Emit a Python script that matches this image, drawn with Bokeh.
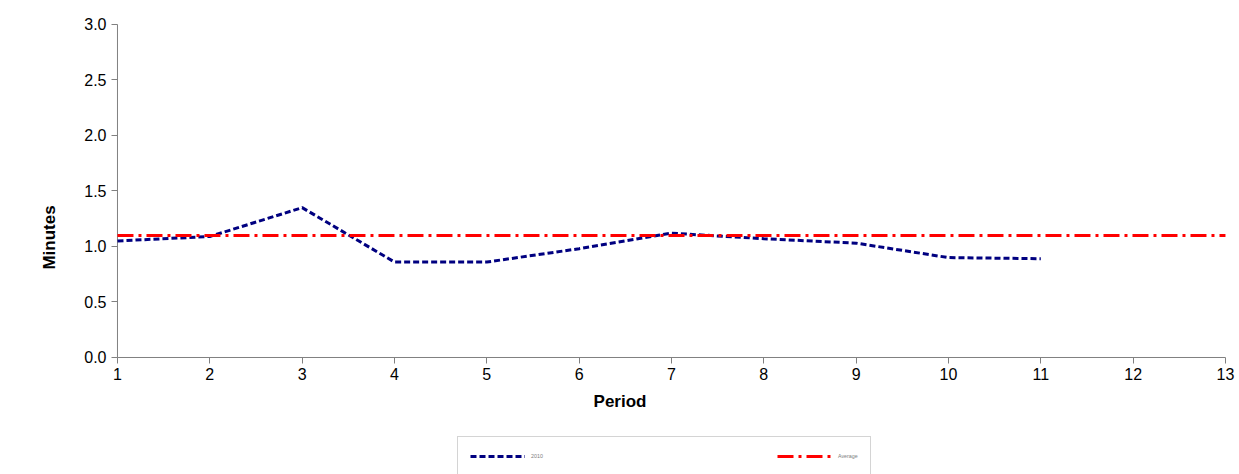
from bokeh.plotting import figure
from bokeh.models import Legend, LegendItem, Range1d, FixedTicker, NumeralTickFormatter
from bokeh.embed import file_html
from bokeh.resources import INLINE

periods = [1, 2, 3, 4, 5, 6, 7, 8, 9, 10, 11]
minutes = [1.05, 1.09, 1.35, 0.86, 0.86, 0.98, 1.12, 1.07, 1.03, 0.90, 0.89]
avg_x = [1, 13]
avg_y = [1.1, 1.1]
x_ticks = list(range(1, 14))
y_ticks = [0, 0.5, 1.0, 1.5, 2.0, 2.5, 3.0]

p = figure(width=1239, height=474, output_backend="svg", toolbar_location=None,
           x_range=Range1d(-0.267, 13.152), y_range=Range1d(-1.054, 3.216),
           min_border_left=0, min_border_right=0, min_border_top=0,
           min_border_bottom=0)
p.grid.visible = False
p.outline_line_color = None
p.background_fill_color = "white"

p.segment(x0=[x_ticks[0]], y0=[y_ticks[0]], x1=[x_ticks[0]], y1=[y_ticks[-1]], line_color="#808080", line_width=1)
p.segment(x0=[x_ticks[0]], y0=[y_ticks[0]], x1=[x_ticks[-1]], y1=[y_ticks[0]], line_color="#808080", line_width=1)

l1 = p.line(periods, minutes, line_color="#000080", line_width=3, line_dash="6 3")
l2 = p.line(avg_x, avg_y, line_color="#FF0000", line_width=3, line_dash="16 5 3 5")

for ax in (p.xaxis[0], p.yaxis[0]):
    ax.axis_line_color = None
    ax.major_tick_line_color = "#808080"
    ax.minor_tick_line_color = None
    ax.major_label_text_font = "Liberation Sans"
    ax.major_label_text_font_size = "16px"
    ax.major_label_text_color = "black"
    ax.axis_label_text_font = "Liberation Sans"
    ax.axis_label_text_font_size = "17px"
    ax.axis_label_text_font_style = "bold"
    ax.axis_label_text_color = "black"
    ax.major_tick_in = 0
    ax.major_tick_out = 6

p.xaxis.fixed_location = 0
p.yaxis.fixed_location = 1
p.xaxis.axis_label_standoff = 8
p.yaxis.axis_label_standoff = 22
p.xaxis.ticker = FixedTicker(ticks=x_ticks)
p.yaxis.ticker = FixedTicker(ticks=y_ticks)
p.yaxis.formatter = NumeralTickFormatter(format="0.0")
p.xaxis.axis_label = "Period"
p.yaxis.axis_label = "Minutes"

legend = Legend(items=[LegendItem(label="2010", renderers=[l1]),
                       LegendItem(label="Average", renderers=[l2])],
                orientation="horizontal", location=(457, -2),
                label_text_font_size="4pt", label_text_color="#808080",
                glyph_width=55, glyph_height=14, spacing=226, padding=12,
                margin=0, border_line_color="#AAAAAA", label_standoff=6)
legend.padding = 12
p.add_layout(legend, "center")

open("out.html", "w").write(file_html(p, INLINE))
